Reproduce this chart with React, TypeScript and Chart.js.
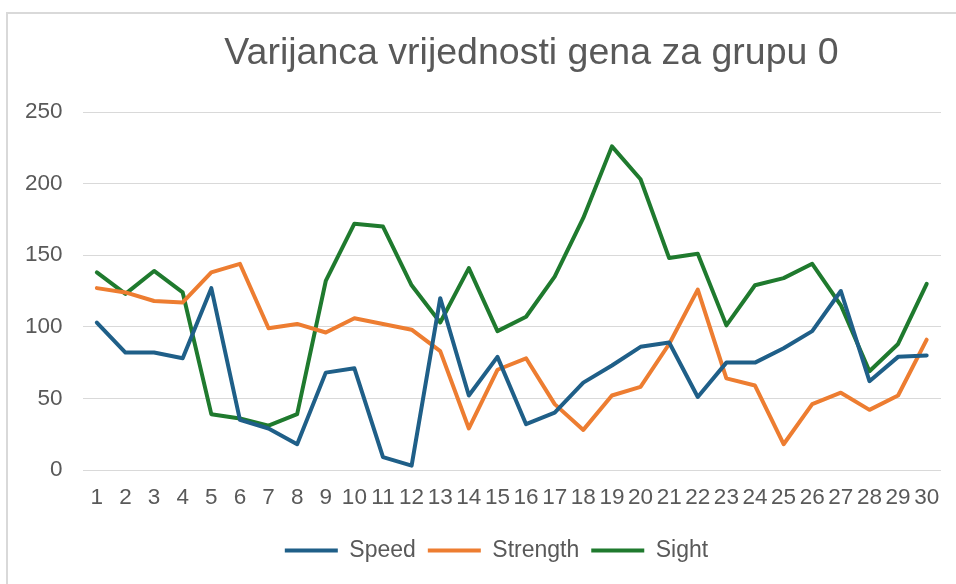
import React, { useEffect, useRef } from "react";
import { Chart, registerables } from "chart.js";

Chart.register(...registerables);

const categories: string[] = Array.from({ length: 30 }, (_, i) => String(i + 1));

const speed: number[] = [103, 82, 82, 78, 127, 35, 29, 18, 68, 71, 9, 3, 120, 52, 79, 32, 40, 61, 73, 86, 89, 51, 75, 75, 85, 97, 125, 62, 79, 80];
const strength: number[] = [127, 124, 118, 117, 138, 144, 99, 102, 96, 106, 102, 98, 83, 29, 70, 78, 46, 28, 52, 58, 88, 126, 64, 59, 18, 46, 54, 42, 52, 91];
const sight: number[] = [138, 123, 139, 124, 39, 36, 31, 39, 132, 172, 170, 129, 103, 141, 97, 107, 135, 176, 226, 203, 148, 151, 101, 129, 134, 144, 115, 69, 88, 130];

const seriesNames: string[] = ["Speed", "Strength", "Sight"];
const seriesColors: string[] = ["#1f5f88", "#ed7d31", "#1f7a2e"];
const titleText = "Varijanca vrijednosti gena za grupu 0";

const FONT = "'Liberation Sans', Arial, sans-serif";
const TEXT = "#595959";

const shiftBoxes = {
  id: "shiftBoxes",
  afterLayout(chart: any) {
    const t = chart.titleBlock;
    if (t) {
      t.left += 49;
      t.right += 49;
    }
    const l = chart.legend;
    if (l) {
      l.left += 14;
      l.right += 14;
    }
  },
};

export default function App() {
  const ref = useRef<HTMLCanvasElement | null>(null);

  useEffect(() => {
    if (!ref.current) return;
    const data = [speed, strength, sight];
    const chart = new Chart(ref.current, {
      type: "line",
      data: {
        labels: categories,
        datasets: seriesNames.map((name, i) => ({
          label: name,
          data: data[i],
          borderColor: seriesColors[i],
          backgroundColor: seriesColors[i],
          borderWidth: 4,
          pointRadius: 0,
          pointHoverRadius: 0,
          tension: 0,
          borderJoinStyle: "round" as const,
          borderCapStyle: "round" as const,
          fill: false,
        })),
      },
      options: {
        responsive: false,
        animation: false,
        layout: { padding: { left: 16, right: 15, top: 0, bottom: 12 } },
        plugins: {
          tooltip: { enabled: false },
          title: {
            display: true,
            text: titleText,
            color: TEXT,
            font: { family: FONT, size: 37.5, weight: "normal", lineHeight: 1.2 },
            padding: { top: 17, bottom: 36 },
          },
          legend: {
            display: true,
            position: "bottom",
            labels: {
              color: TEXT,
              font: { family: FONT, size: 23 },
              boxWidth: 53,
              boxHeight: 4,
              padding: 12,
              generateLabels: (c: any) =>
                c.data.datasets.map((ds: any, i: number) => ({
                  text: ds.label,
                  fillStyle: ds.borderColor,
                  strokeStyle: ds.borderColor,
                  lineWidth: 0,
                  fontColor: TEXT,
                  hidden: false,
                  datasetIndex: i,
                })),
            },
          },
        },
        scales: {
          x: {
            offset: true,
            grid: { display: false, drawTicks: false },
            border: { display: false },
            ticks: {
              color: TEXT,
              font: { family: FONT, size: 22.5 },
              padding: 14,
              maxRotation: 0,
              autoSkip: false,
            },
            afterFit: (s: any) => {
              s.height += 2;
            },
          },
          y: {
            min: 0,
            max: 250,
            grid: { color: "#d9d9d9", lineWidth: 1, drawTicks: false },
            border: { display: false },
            ticks: {
              stepSize: 50,
              color: TEXT,
              font: { family: FONT, size: 22.5 },
              padding: 20,
            },
            afterFit: (s: any) => {
              s.width -= 19;
            },
          },
        },
      },
      plugins: [shiftBoxes],
    });
    return () => chart.destroy();
  }, []);

  return (
    <div
      style={{
        position: "fixed",
        left: 6,
        top: 12,
        width: 950,
        height: 572,
        boxSizing: "border-box",
        borderTop: "2px solid #d9d9d9",
        borderLeft: "2px solid #d9d9d9",
        background: "#ffffff",
        overflow: "hidden",
      }}
    >
      <canvas ref={ref} width={948} height={570} style={{ display: "block" }} />
    </div>
  );
}
